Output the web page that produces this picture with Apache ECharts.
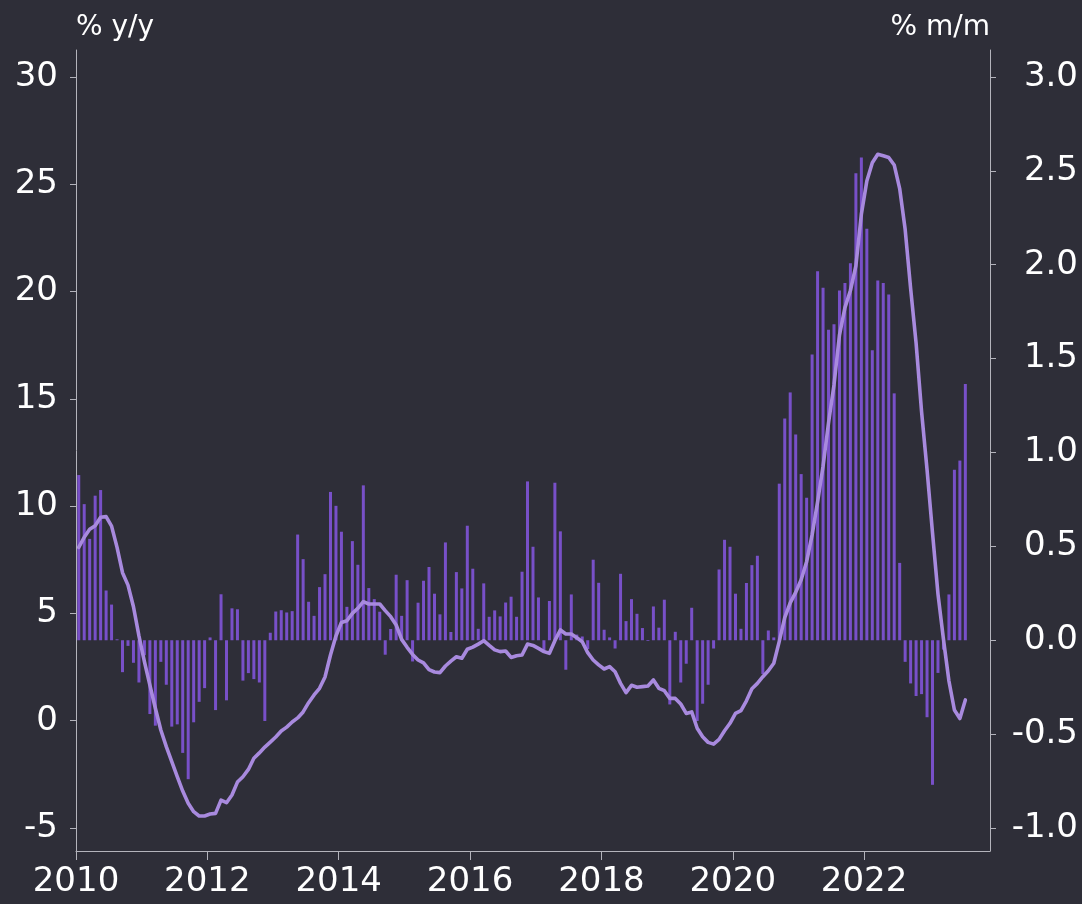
<!DOCTYPE html>
<html>
<head>
<meta charset="utf-8">
<title>Prices: % y/y and % m/m</title>
<script src="https://cdn.jsdelivr.net/npm/echarts@6/dist/echarts.min.js"></script>
<style>
  html, body { margin: 0; padding: 0; background: #2e2e38; }
  #chart { width: 1082px; height: 904px; }
</style>
</head>
<body>
<div id="chart"></div>
<script>
// Monthly series, starting January 2010
const startYear = 2010;

// Month-on-month change, % (bars, right axis)
const momValues = [
  0.88, 0.725, 0.54, 0.77, 0.80, 0.265, 0.19, 0.005, -0.17, -0.03, -0.12, -0.225,
  -0.08, -0.393, -0.455, -0.115, -0.237, -0.46, -0.448, -0.60, -0.74, -0.437, -0.328, -0.255,
  0.015, -0.372, 0.245, -0.32, 0.17, 0.165, -0.215, -0.175, -0.207, -0.225, -0.43, 0.04,
  0.153, 0.16, 0.148, 0.155, 0.563, 0.432, 0.205, 0.13, 0.283, 0.352, 0.79, 0.716,
  0.578, 0.178, 0.528, 0.402, 0.825, 0.278, 0.219, 0.152, -0.077, 0.06, 0.349, 0.13,
  0.32, -0.113, 0.2, 0.317, 0.39, 0.248, 0.138, 0.521, 0.044, 0.363, 0.276, 0.61,
  0.381, 0.061, 0.303, 0.125, 0.159, 0.127, 0.201, 0.232, 0.125, 0.365, 0.846, 0.498,
  0.228, -0.058, 0.209, 0.839, 0.58, -0.157, 0.244, 0.03, 0.02, -0.047, 0.429, 0.306,
  0.056, 0.015, -0.044, 0.354, 0.102, 0.219, 0.141, 0.065, -0.004, 0.18, 0.067, 0.216,
  -0.342, 0.045, -0.225, -0.125, 0.173, -0.43, -0.338, -0.237, -0.044, 0.377, 0.535, 0.498,
  0.248, 0.061, 0.305, 0.40, 0.45, -0.18, 0.052, 0.015, 0.834, 1.181, 1.32, 1.096,
  0.885, 0.759, 1.522, 1.965, 1.878, 1.654, 1.683, 1.863, 1.903, 2.008, 2.488, 2.571,
  2.192, 1.544, 1.916, 1.903, 1.842, 1.315, 0.412, -0.115, -0.23, -0.297, -0.287, -0.41,
  -0.77, -0.174, -0.05, 0.244, 0.908, 0.957, 1.365
];

// Year-on-year change, % (line, left axis)
const yoyValues = [
  8.08, 8.55, 8.92, 9.09, 9.48, 9.51, 9.07, 8.08, 6.9, 6.32, 5.31, 3.95,
  2.75, 1.66, 0.58, -0.43, -1.21, -1.91, -2.61, -3.28, -3.85, -4.24, -4.44, -4.44,
  -4.35, -4.32, -3.7, -3.82, -3.46, -2.86, -2.61, -2.27, -1.75, -1.5, -1.23, -1.0,
  -0.76, -0.48, -0.3, -0.06, 0.13, 0.41, 0.84, 1.2, 1.51, 2.04, 3.06, 3.95,
  4.58, 4.66, 5.0, 5.24, 5.55, 5.44, 5.44, 5.44, 5.13, 4.85, 4.46, 3.79,
  3.42, 3.09, 2.83, 2.7, 2.38, 2.27, 2.24, 2.55, 2.78, 2.98, 2.91, 3.33,
  3.43, 3.57, 3.73, 3.51, 3.3, 3.22, 3.25, 2.95, 3.03, 3.06, 3.57, 3.51,
  3.37, 3.22, 3.14, 3.73, 4.23, 4.04, 4.04, 3.87, 3.68, 3.17, 2.83, 2.6,
  2.41, 2.52, 2.28, 1.74, 1.31, 1.65, 1.56, 1.59, 1.62, 1.9, 1.51, 1.4,
  1.04, 1.04, 0.78, 0.34, 0.41, -0.35, -0.75, -1.01, -1.09, -0.87, -0.47, -0.12,
  0.34, 0.47, 0.93, 1.49, 1.74, 2.05, 2.33, 2.68, 3.7, 4.8, 5.49, 5.98,
  6.57, 7.41, 8.66, 10.19, 11.86, 13.88, 15.65, 17.97, 19.25, 20.05, 21.2, 23.6,
  25.15, 26.0, 26.4, 26.33, 26.25, 25.9, 24.8, 22.9, 20.15, 17.6, 14.4, 11.7,
  8.75, 5.9, 3.8, 1.85, 0.5, 0.1, 0.97
];

// Axis tick labels
const yearTicks = [2010, 2012, 2014, 2016, 2018, 2020, 2022];
const leftTicks = [-5, 0, 5, 10, 15, 20, 25, 30];
const rightTicks = [-1.0, -0.5, 0.0, 0.5, 1.0, 1.5, 2.0, 2.5, 3.0];

// Month labels (YYYY-MM) and their position on a decimal-year axis (mid-month)
const months = momValues.map((_, i) => {
  const y = startYear + Math.floor(i / 12);
  const m = (i % 12) + 1;
  return y + '-' + String(m).padStart(2, '0');
});
const monthPos = months.map(s => {
  const [y, m] = s.split('-').map(Number);
  return y + (m - 0.5) / 12;
});

const FONT = 'DejaVu Sans';
const TEXT = '#ffffff';
const AXIS = '#b4b4bc';

const chart = echarts.init(document.getElementById('chart'), null, { renderer: 'canvas' });

chart.setOption({
  backgroundColor: '#2e2e38',
  animation: false,
  grid: { left: 76, right: 92, top: 50, bottom: 53, containLabel: false },
  xAxis: {
    type: 'value',
    min: 2010,
    max: 2023.917,
    splitLine: { show: false },
    axisLine: { show: true, onZero: false, lineStyle: { color: AXIS, width: 1 } },
    axisTick: { show: true, length: 9, customValues: yearTicks, lineStyle: { color: AXIS } },
    axisLabel: {
      customValues: yearTicks,
      formatter: v => String(Math.round(v)),
      color: TEXT, fontSize: 34, fontFamily: FONT, margin: 14
    }
  },
  yAxis: [
    {
      type: 'value',
      position: 'left',
      min: -6.072,
      max: 31.258,
      name: '% y/y',
      nameLocation: 'end',
      nameGap: 22,
      nameTextStyle: { color: TEXT, fontSize: 28, fontFamily: FONT, align: 'left', verticalAlign: 'middle' },
      splitLine: { show: false },
      axisLine: { show: true, lineStyle: { color: AXIS, width: 1 } },
      axisTick: { show: true, length: 6, customValues: leftTicks, lineStyle: { color: AXIS } },
      axisLabel: {
        customValues: leftTicks,
        formatter: v => String(v),
        color: TEXT, fontSize: 34, fontFamily: FONT, margin: 18
      }
    },
    {
      type: 'value',
      position: 'right',
      min: -1.1225,
      max: 3.1438,
      name: '% m/m',
      nameLocation: 'end',
      nameGap: 22,
      nameTextStyle: { color: TEXT, fontSize: 28, fontFamily: FONT, align: 'right', verticalAlign: 'middle' },
      splitLine: { show: false },
      axisLine: { show: true, lineStyle: { color: AXIS, width: 1 } },
      axisTick: { show: true, length: 6, customValues: rightTicks, lineStyle: { color: AXIS } },
      axisLabel: {
        customValues: rightTicks,
        formatter: v => Number(v).toFixed(1),
        align: 'right',
        color: TEXT, fontSize: 34, fontFamily: FONT, margin: 88
      }
    }
  ],
  series: [
    {
      name: '% m/m',
      type: 'bar',
      yAxisIndex: 1,
      barWidth: 3,
      itemStyle: { color: '#7850c8' },
      data: momValues.map((v, i) => [monthPos[i], v]),
      z: 2
    },
    {
      name: '% y/y',
      type: 'line',
      yAxisIndex: 0,
      showSymbol: false,
      smooth: false,
      lineStyle: { color: '#a88ade', width: 3.6, cap: 'round', join: 'round' },
      data: yoyValues.map((v, i) => [monthPos[i], v]),
      z: 3
    }
  ]
});
</script>
</body>
</html>
